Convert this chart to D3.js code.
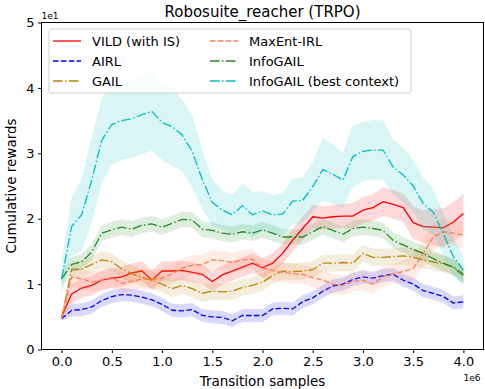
<!DOCTYPE html>
<html>
<head>
<meta charset="utf-8">
<script src="https://cdn.jsdelivr.net/npm/d3@7"></script>
<style>
  body { margin: 0; background: #fff; }
  text { font-family: "DejaVu Sans", sans-serif; fill: #000; }
</style>
</head>
<body>
<div id="chart"></div>
<script>
// transition samples (x 1e6)
var steps = [0.0, 0.1, 0.2, 0.3, 0.4, 0.5, 0.6, 0.7, 0.8, 0.9, 1.0, 1.1, 1.2, 1.3, 1.4, 1.5, 1.6, 1.7, 1.8, 1.9, 2.0,
             2.1, 2.2, 2.3, 2.4, 2.5, 2.6, 2.7, 2.8, 2.9, 3.0, 3.1, 3.2, 3.3, 3.4, 3.5, 3.6, 3.7, 3.8, 3.9, 4.0];

// mean rewards (x 1e1)
var vild = [0.5, 0.85, 0.94, 0.98, 1.06, 1.09, 1.11, 1.17, 1.2, 1.06, 1.2, 1.2, 1.21, 1.18, 1.15, 1.04, 1.14, 1.2, 1.26, 1.32, 1.25,
            1.32, 1.47, 1.67, 1.85, 2.03, 2.01, 2.03, 2.04, 2.04, 2.13, 2.17, 2.26, 2.22, 2.17, 1.94, 1.88, 1.87, 1.86, 1.95, 2.08];
var airl = [0.47, 0.6, 0.61, 0.65, 0.75, 0.81, 0.84, 0.83, 0.8, 0.76, 0.69, 0.6, 0.59, 0.61, 0.52, 0.5, 0.49, 0.44, 0.52, 0.52, 0.52,
            0.62, 0.63, 0.62, 0.73, 0.79, 0.89, 0.97, 1.0, 1.07, 1.11, 1.09, 1.13, 1.15, 1.06, 1.0, 0.9, 0.86, 0.81, 0.71, 0.73];
var gail = [0.47, 1.22, 1.23, 1.3, 1.37, 1.34, 1.23, 1.16, 1.1, 1.06, 1.0, 0.93, 0.98, 0.93, 0.86, 0.89, 0.88, 0.89, 0.95, 0.98, 1.03,
            1.13, 1.2, 1.19, 1.2, 1.22, 1.32, 1.32, 1.33, 1.32, 1.47, 1.41, 1.41, 1.42, 1.43, 1.41, 1.37, 1.34, 1.31, 1.26, 1.16];
var maxent = [0.47, 1.11, 1.08, 1.03, 1.06, 1.1, 1.01, 1.04, 1.08, 1.07, 1.09, 1.16, 1.24, 1.29, 1.3, 1.37, 1.36, 1.33, 1.37, 1.38, 1.24,
              1.21, 1.18, 1.16, 1.15, 1.1, 1.06, 1.0, 0.98, 1.04, 1.06, 1.0, 1.11, 1.16, 1.19, 1.24, 1.47, 1.72, 1.8, 1.78, 1.75];
var infogail = [1.08, 1.3, 1.34, 1.49, 1.78, 1.83, 1.87, 1.84, 1.9, 1.92, 1.87, 1.93, 1.99, 1.98, 1.84, 1.82, 1.78, 1.76, 1.8, 1.78, 1.83,
                1.78, 1.72, 1.72, 1.72, 1.8, 1.88, 1.82, 1.76, 1.85, 1.87, 1.85, 1.82, 1.67, 1.6, 1.53, 1.47, 1.39, 1.32, 1.26, 1.13];
var infogail_best = [1.08, 1.88, 2.06, 2.59, 3.2, 3.44, 3.5, 3.53, 3.59, 3.64, 3.47, 3.41, 3.28, 3.03, 2.6, 2.25, 2.13, 2.06, 2.2, 2.06, 2.12,
                     2.06, 2.07, 2.27, 2.28, 2.49, 2.75, 2.68, 2.59, 2.95, 3.03, 3.05, 3.05, 2.79, 2.67, 2.5, 2.23, 2.1, 1.77, 1.42, 1.21];

// standard deviations (shaded bands)
var vild_sd = [0.05, 0.15, 0.15, 0.15, 0.15, 0.15, 0.15, 0.15, 0.15, 0.15, 0.15, 0.15, 0.15, 0.15, 0.15, 0.15, 0.15, 0.15, 0.15, 0.15, 0.15,
               0.15, 0.15, 0.18, 0.18, 0.18, 0.18, 0.18, 0.18, 0.2, 0.2, 0.2, 0.22, 0.22, 0.22, 0.25, 0.25, 0.28, 0.3, 0.3, 0.3];
var airl_sd = [0.03, 0.1, 0.1, 0.1, 0.1, 0.1, 0.1, 0.1, 0.1, 0.1, 0.1, 0.1, 0.1, 0.1, 0.1, 0.1, 0.1, 0.1, 0.1, 0.1, 0.1,
               0.1, 0.1, 0.1, 0.1, 0.1, 0.1, 0.1, 0.1, 0.1, 0.1, 0.1, 0.1, 0.1, 0.1, 0.1, 0.1, 0.1, 0.1, 0.1, 0.1];
var gail_sd = [0.05, 0.13, 0.13, 0.13, 0.13, 0.13, 0.13, 0.13, 0.13, 0.13, 0.13, 0.13, 0.13, 0.13, 0.13, 0.13, 0.13, 0.13, 0.13, 0.13, 0.13,
               0.13, 0.13, 0.13, 0.13, 0.13, 0.13, 0.13, 0.13, 0.13, 0.13, 0.13, 0.13, 0.13, 0.13, 0.13, 0.13, 0.13, 0.13, 0.13, 0.13];
var maxent_sd = [0.05, 0.15, 0.15, 0.15, 0.15, 0.15, 0.15, 0.15, 0.15, 0.15, 0.15, 0.15, 0.15, 0.15, 0.15, 0.15, 0.15, 0.15, 0.15, 0.15, 0.15,
                 0.15, 0.15, 0.15, 0.15, 0.15, 0.15, 0.15, 0.15, 0.15, 0.15, 0.15, 0.15, 0.15, 0.18, 0.2, 0.2, 0.2, 0.2, 0.2, 0.2];
var infogail_sd = [0.1, 0.12, 0.12, 0.12, 0.12, 0.12, 0.12, 0.12, 0.12, 0.12, 0.12, 0.12, 0.12, 0.12, 0.12, 0.12, 0.12, 0.12, 0.12, 0.12, 0.12,
                   0.12, 0.12, 0.12, 0.12, 0.12, 0.12, 0.12, 0.12, 0.12, 0.12, 0.12, 0.12, 0.12, 0.12, 0.12, 0.12, 0.12, 0.12, 0.12, 0.12];
var infogail_best_sd = [0.25, 0.45, 0.55, 0.65, 0.65, 0.62, 0.6, 0.6, 0.6, 0.6, 0.57, 0.6, 0.55, 0.55, 0.45, 0.35, 0.3, 0.3, 0.35, 0.35, 0.3,
                        0.3, 0.32, 0.35, 0.35, 0.38, 0.48, 0.45, 0.42, 0.47, 0.45, 0.46, 0.45, 0.42, 0.42, 0.4, 0.4, 0.35, 0.33, 0.3, 0.22];

var names = ["VILD (with IS)", "AIRL", "GAIL", "MaxEnt-IRL", "InfoGAIL", "InfoGAIL (best context)"];
var colors = ["#ff0000", "#0000ff", "#b8860b", "#ff7f50", "#228b22", "#00bfbf"];
var dashes = ["none", "5.5,2.4", "9.6,2.4,1.5,2.4", "5.5,2.4", "9.6,2.4,1.5,2.4", "9.6,2.4,1.5,2.4"];
var means = [vild, airl, gail, maxent, infogail, infogail_best];
var sds = [vild_sd, airl_sd, gail_sd, maxent_sd, infogail_sd, infogail_best_sd];

var yTicks = [0, 1, 2, 3, 4, 5];
var xTicks = [0.0, 0.5, 1.0, 1.5, 2.0, 2.5, 3.0, 3.5, 4.0];

var margin = {top: 22.5, right: 1.5, bottom: 39.5, left: 41.5},
    W = 485, H = 389,
    width = W - margin.left - margin.right,
    height = H - margin.top - margin.bottom;

var svg = d3.select("#chart").append("svg")
    .attr("width", W).attr("height", H)
    .append("g")
    .attr("transform", "translate(" + margin.left + "," + margin.top + ")");

var x = d3.scaleLinear().domain([-0.2, 4.2]).range([0, width]);
var y = d3.scaleLinear().domain([0, 5]).range([height, 0]);

svg.append("clipPath").attr("id", "clip")
  .append("rect").attr("width", width).attr("height", height);

var plot = svg.append("g").attr("clip-path", "url(#clip)");

var area = d3.area()
    .x(function(d) { return x(d.x); })
    .y0(function(d) { return y(d.m - d.s); })
    .y1(function(d) { return y(d.m + d.s); });
var line = d3.line()
    .x(function(d) { return x(d.x); })
    .y(function(d) { return y(d.m); });

means.forEach(function(m, i) {
  var data = steps.map(function(s, j) { return {x: s, m: m[j], s: sds[i][j]}; });
  plot.append("path").datum(data)
    .attr("d", area)
    .attr("fill", colors[i])
    .attr("fill-opacity", 0.15);
  plot.append("path").datum(data)
    .attr("d", line)
    .attr("fill", "none")
    .attr("stroke", colors[i])
    .attr("stroke-width", 1.3)
    .attr("stroke-dasharray", dashes[i]);
});

// axes
svg.append("g")
  .attr("transform", "translate(0," + height + ")")
  .call(d3.axisBottom(x).tickValues(xTicks).tickFormat(d3.format(".1f")).tickSizeOuter(0).tickSize(3.5).tickPadding(3.5))
  .call(function(g) { g.select(".domain").remove(); })
  .selectAll("text").style("font-size", "13px").style("font-family", "DejaVu Sans");

svg.append("g")
  .call(d3.axisLeft(y).tickValues(yTicks).tickFormat(d3.format("d")).tickSizeOuter(0).tickSize(3.5).tickPadding(3.5))
  .call(function(g) { g.select(".domain").remove(); })
  .selectAll("text").style("font-size", "13px").style("font-family", "DejaVu Sans");

svg.append("rect")
  .attr("width", width).attr("height", height)
  .attr("fill", "none").attr("stroke", "#000").attr("stroke-width", 1);

// labels
svg.append("text")
  .attr("x", width / 2).attr("y", -6)
  .style("text-anchor", "middle").style("font-size", "15px")
  .text("Robosuite_reacher (TRPO)");

svg.append("text")
  .attr("x", width / 2).attr("y", height + 36)
  .style("text-anchor", "middle").style("font-size", "13.5px")
  .text("Transition samples");

svg.append("text")
  .attr("transform", "translate(" + (-26) + "," + (height / 2) + ") rotate(-90)")
  .style("text-anchor", "middle").style("font-size", "13.5px")
  .text("Cumulative rewards");

svg.append("text")
  .attr("x", 0).attr("y", -4)
  .style("font-size", "9px")
  .text("1e1");

svg.append("text")
  .attr("x", width - 3).attr("y", height + 31)
  .style("text-anchor", "end").style("font-size", "9px")
  .text("1e6");

// legend
var legend = svg.append("g").attr("transform", "translate(7.5,6.5)");
legend.append("rect")
  .attr("width", 362).attr("height", 64).attr("rx", 2.5)
  .attr("fill", "#fff").attr("fill-opacity", 0.8)
  .attr("stroke", "#ccc").attr("stroke-width", 1);

names.forEach(function(n, i) {
  var col = Math.floor(i / 3), row = i % 3;
  var g = legend.append("g")
    .attr("transform", "translate(" + (4 + col * 157) + "," + (12 + row * 20) + ")");
  g.append("line")
    .attr("x1", 0).attr("x2", 28)
    .attr("stroke", colors[i]).attr("stroke-width", 1.3)
    .attr("stroke-dasharray", dashes[i]);
  g.append("text")
    .attr("x", 39).attr("y", 4.5)
    .style("font-size", "13px")
    .text(n);
});
</script>
</body>
</html>
